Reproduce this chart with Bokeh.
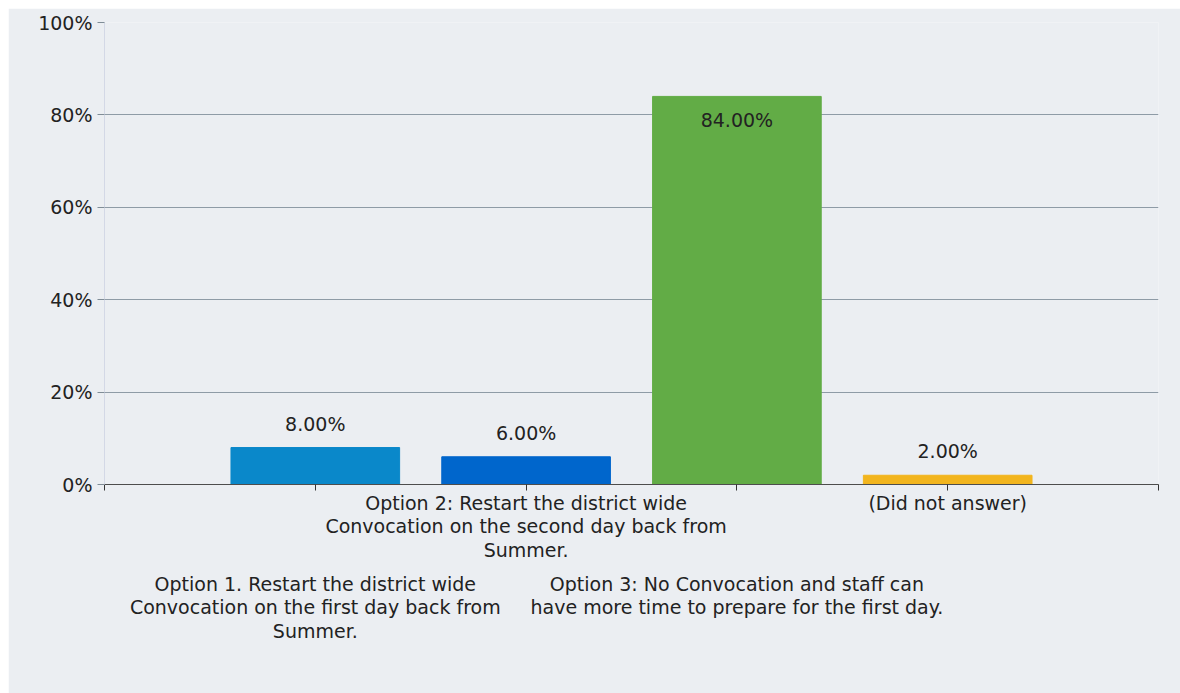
from bokeh.plotting import figure
from bokeh.models import (ColumnDataSource, Range1d, FixedTicker, LinearAxis,
                          PrintfTickFormatter)
from bokeh.core.properties import value
from bokeh.embed import file_html
from bokeh.resources import INLINE

categories = [
    "Option 1. Restart the district wide\nConvocation on the first day back from\nSummer.",
    "Option 2: Restart the district wide\nConvocation on the second day back from\nSummer.",
    "Option 3: No Convocation and staff can\nhave more time to prepare for the first day.",
    "(Did not answer)",
]
percent_values = [8.0, 6.0, 84.0, 2.0]
bar_colors = ["#0A88CA", "#0066CC", "#62AC46", "#F2B51E"]
y_tick_values = [0, 20, 40, 60, 80, 100]

FONT = "DejaVu Sans"
FS = "19px"
TXT = "#222222"
BG = "#EBEEF2"
LH = 1.08

positions = list(range(1, len(categories) + 1))
labels = [f"{v:.2f}%" for v in percent_values]
offsets = [24 if v > 70 else -24 for v in percent_values]

src = ColumnDataSource(dict(x=positions, top=percent_values, color=bar_colors,
                            label=labels, yoff=offsets))

p = figure(width=1172, height=685, x_range=Range1d(0, len(categories) + 1),
           y_range=Range1d(0, 100), output_backend="svg", toolbar_location=None,
           min_border_left=96, min_border_right=22, min_border_top=14,
           min_border_bottom=209, background_fill_color=BG,
           border_fill_color=BG, outline_line_color=None)
p.margin = (8, 0, 0, 8)

p.vbar(x="x", top="top", width=0.8, color="color", source=src)
p.text(x="x", y="top", text="label", y_offset="yoff", source=src,
       text_align="center", text_baseline="alphabetic",
       text_font=value(FONT), text_font_size=FS, text_color=TXT)

# y axis
ya = p.yaxis[0]
ya.ticker = FixedTicker(ticks=y_tick_values)
ya.formatter = PrintfTickFormatter(format="%d%%")
ya.axis_line_color = "#D3D8E6"
ya.major_tick_line_color = "#7F8C96"
ya.major_tick_out = 7
ya.major_tick_in = 0
ya.minor_tick_line_color = None
ya.major_label_standoff = 5
ya.major_label_text_font = FONT
ya.major_label_text_font_size = FS
ya.major_label_text_color = TXT

p.ygrid.grid_line_color = "#8E9BA6"
p.xgrid.grid_line_color = None

# first x axis: ticks and first row of labels
xa = p.xaxis[0]
all_ticks = list(range(0, len(categories) + 2))
xa.ticker = FixedTicker(ticks=all_ticks)
row1 = {t: "" for t in all_ticks}
row1[2] = categories[1]
row1[4] = categories[3]
xa.major_label_overrides = row1
xa.axis_line_color = "#4D4D4D"
xa.major_tick_line_color = "#333333"
xa.major_tick_out = 6
xa.major_tick_in = 0
xa.minor_tick_line_color = None
xa.major_label_standoff = 1
xa.major_label_text_font = FONT
xa.major_label_text_font_size = FS
xa.major_label_text_color = TXT
xa.major_label_text_line_height = LH

# second x axis: second row of labels (staggered)
xa2 = LinearAxis(ticker=FixedTicker(ticks=[1, 3]))
xa2.major_label_overrides = {1: categories[0], 3: categories[2]}
xa2.axis_line_color = None
xa2.major_tick_line_color = None
xa2.minor_tick_line_color = None
xa2.major_tick_out = 0
xa2.major_tick_in = 0
xa2.major_label_standoff = 8
xa2.major_label_text_font = FONT
xa2.major_label_text_font_size = FS
xa2.major_label_text_color = TXT
xa2.major_label_text_line_height = LH
p.add_layout(xa2, "below")

open("out.html", "w").write(file_html(p, INLINE))
